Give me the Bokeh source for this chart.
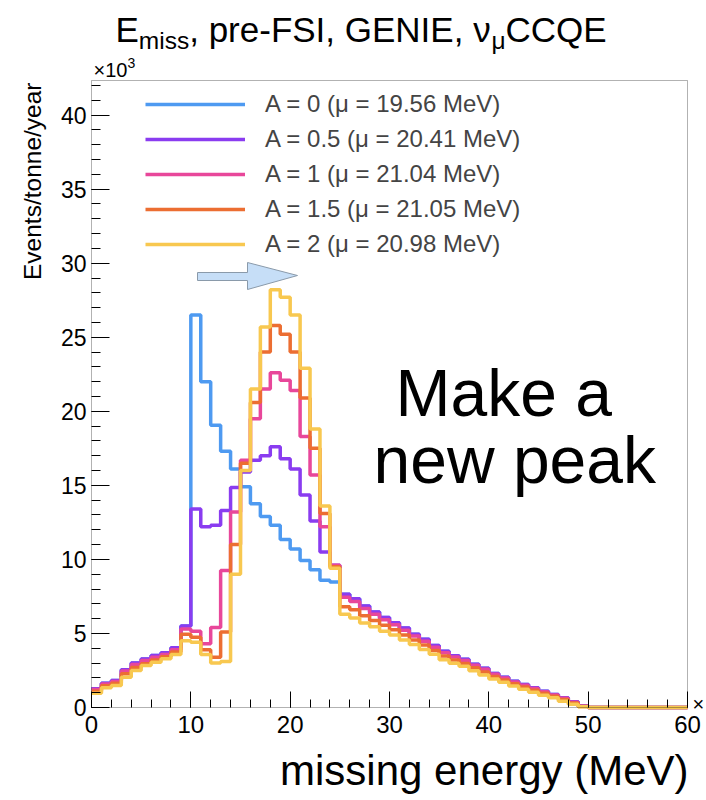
import numpy as np
from bokeh.plotting import figure
from bokeh.models import (Range1d, FixedTicker, Label, Legend, LegendItem, ColumnDataSource,
                          BoxAnnotation)
from bokeh.embed import file_html
from bokeh.resources import INLINE

# ---------------- data (events/tonne/year, in units of 10^3) ----------------
bin_edges = list(range(0, 61))
labels = ["A = 0 (\u03bc = 19.56 MeV)", "A = 0.5 (\u03bc = 20.41 MeV)", "A = 1 (\u03bc = 21.04 MeV)",
          "A = 1.5 (\u03bc = 21.05 MeV)", "A = 2 (\u03bc = 20.98 MeV)"]
colors = ["#4e9af1", "#8a3cf0", "#e8479a", "#ec6e32", "#f8c850"]

zeros10 = [0.0] * 10
a0 = [1.26, 1.64, 1.82, 2.55, 3.0, 3.27, 3.51, 3.7, 4.03, 5.5,
      26.5, 22.0, 19.05, 17.3, 16.1, 14.9, 13.75, 12.9, 12.3, 11.35, 10.7, 9.93, 9.3, 8.6, 8.47,
      7.65, 7.34, 6.85, 6.45, 6.08, 5.72, 5.36, 4.95, 4.6, 4.18, 3.8, 3.5, 3.25, 2.92, 2.65,
      2.3, 2.05, 1.78, 1.55, 1.33, 1.1, 0.88, 0.65, 0.38, 0.1] + zeros10
a05 = [1.26, 1.64, 1.82, 2.55, 3.0, 3.27, 3.51, 3.7, 4.03, 5.5,
       13.4, 12.2, 12.3, 13.3, 14.85, 15.9, 16.7, 17.0, 17.6, 16.8, 16.1, 14.35, 12.6, 10.5, 9.6,
       7.65, 7.34, 6.85, 6.45, 6.08, 5.72, 5.36, 4.95, 4.6, 4.18, 3.8, 3.5, 3.25, 2.92, 2.65,
       2.3, 2.05, 1.78, 1.55, 1.33, 1.1, 0.88, 0.65, 0.38, 0.1] + zeros10
a1 = [1.22, 1.59, 1.76, 2.47, 2.9, 3.17, 3.4, 3.58, 3.9, 5.3,
      5.15, 4.3, 5.4, 9.25, 13.2, 16.7, 19.5, 21.5, 22.6, 22.1, 21.4, 18.3, 15.7, 12.2, 9.6,
      7.45, 7.15, 6.68, 6.3, 5.93, 5.58, 5.22, 4.82, 4.48, 4.07, 3.7, 3.41, 3.17, 2.85, 2.58,
      2.24, 2.0, 1.73, 1.51, 1.29, 1.07, 0.85, 0.62, 0.36, 0.09] + zeros10
a15 = [1.1, 1.47, 1.63, 2.28, 2.7, 2.95, 3.2, 3.42, 3.75, 4.95,
       4.75, 3.9, 3.4, 5.1, 11.0, 16.5, 20.6, 24.0, 25.8, 25.2, 24.0, 20.9, 17.5, 13.1, 9.5,
       6.8, 6.6, 6.2, 5.88, 5.55, 5.25, 4.9, 4.55, 4.22, 3.85, 3.48, 3.2, 2.97, 2.68, 2.4,
       2.1, 1.86, 1.6, 1.38, 1.17, 0.96, 0.76, 0.54, 0.3, 0.07] + zeros10
a2 = [0.97, 1.33, 1.49, 2.05, 2.5, 2.84, 3.06, 3.29, 3.58, 4.5,
      4.4, 3.58, 3.0, 3.1, 9.0, 16.0, 21.5, 25.7, 28.2, 27.7, 26.5, 22.9, 18.8, 13.6, 9.4,
      6.3, 6.05, 5.7, 5.45, 5.15, 4.9, 4.55, 4.25, 3.92, 3.6, 3.22, 2.98, 2.78, 2.48, 2.2,
      1.92, 1.7, 1.45, 1.23, 1.03, 0.83, 0.65, 0.43, 0.22, 0.05] + zeros10
series = [a0, a05, a1, a15, a2]

x_major_ticks = [0, 10, 20, 30, 40, 50, 60]
x_minor_ticks = list(range(0, 61, 2))
y_major_ticks = [0, 5, 10, 15, 20, 25, 30, 35, 40]
y_minor_ticks = list(range(0, 43))

# ---------------- layout constants (pixels) ----------------
W, H = 706, 800
FL, FR, FT, FB = 91, 687, 80, 707          # ROOT frame edges in the picture
XMAX = 60.0
PX_PER_X = (FR - FL) / XMAX
PX_PER_Y = 14.81
YMAX = (FB - FT) / PX_PER_Y


def dx(px):
    return (px - FL) / PX_PER_X


def dy(py):
    return (FB - py) / PX_PER_Y


FONT = "Liberation Sans"

# the Bokeh frame covers the whole canvas; axes are pinned at x=0 / y=0
p = figure(width=W, height=H, output_backend="svg", toolbar_location=None,
           x_range=Range1d(dx(0), dx(W)), y_range=Range1d(dy(H), dy(0)),
           min_border_left=0, min_border_right=0, min_border_top=0, min_border_bottom=0)
p.title.visible = False
p.background_fill_color = "white"
p.border_fill_color = "white"
p.grid.visible = False
p.outline_line_color = None

p.xaxis.fixed_location = 0
p.yaxis.fixed_location = 0
p.xaxis.ticker = FixedTicker(ticks=x_major_ticks, minor_ticks=x_minor_ticks)
p.yaxis.ticker = FixedTicker(ticks=y_major_ticks, minor_ticks=y_minor_ticks)
for ax, mj, mn, so, fs in ((p.xaxis, 16, 8, 8, 24), (p.yaxis, 18, 9, 5, 23)):
    ax.major_tick_in = mj
    ax.major_tick_out = 0
    ax.minor_tick_in = mn
    ax.minor_tick_out = 0
    ax.major_tick_line_color = "black"
    ax.minor_tick_line_color = "black"
    ax.axis_line_color = None
    ax.major_label_text_font = FONT
    ax.major_label_text_font_size = f"{fs}px"
    ax.major_label_text_color = "black"
    ax.major_label_standoff = so

# ROOT frame box
p.add_layout(BoxAnnotation(left=0, right=XMAX, bottom=0, top=YMAX, fill_alpha=0,
                           line_color="black", line_width=1, level="overlay"))

# ---------------- histograms ----------------
items = []
for vals, col, lab in zip(series, colors, labels):
    src = ColumnDataSource(dict(x=bin_edges, y=vals + [vals[-1]]))
    r = p.step("x", "y", source=src, mode="after", line_color=col, line_width=3.5)
    dot = p.scatter(x=[], y=[], marker="square", size=5, color="black")
    items.append(LegendItem(label=lab, renderers=[r, dot]))

leg = Legend(items=items, location=(145, 542), orientation="vertical",
             glyph_width=100, glyph_height=20, label_height=20, spacing=7,
             label_standoff=20, label_text_font=FONT, label_text_font_size="24px",
             padding=0, margin=0, border_line_alpha=0, background_fill_alpha=0)
p.add_layout(leg, "center")

# ---------------- arrow (decoration) ----------------
ax_px = [197, 247, 247, 297, 247, 247, 197]
ay_px = [272, 272, 262, 275, 289, 280, 280]
p.patch([dx(v) for v in ax_px], [dy(v) for v in ay_px], fill_color="#c6def7",
        line_color="#8a9aaa", line_width=1)

# ---------------- text ----------------
AW = {" ": .278, ",": .278, "-": .333, "p": .556, "r": .333, "e": .556, "F": .611, "S": .667,
      "I": .278, "G": .778, "E": .667, "N": .722, "C": .722, "Q": .778, "m": .833, "i": .222,
      "s": .5, "\u03bd": .52, "\u03bc": .576, "\u00d7": .584, "1": .556, "0": .556}


def tw(s, size):
    return sum(AW.get(c, .556) for c in s) * size


def lab(text, px, base_py, size, align="left", angle=0.0, mid_x=None):
    # place by alphabetic baseline (converted to the text box middle)
    if angle == 0.0:
        x, y = dx(px), dy(base_py - 0.3465 * size)
    else:
        x, y = dx(mid_x), dy(base_py)
    p.add_layout(Label(x=x, y=y, text=text, text_font=FONT,
                       text_font_size=f"{size}px", text_color="black",
                       text_align=align, text_baseline="middle", angle=angle))


# title: E_miss, pre-FSI, GENIE, nu_mu CCQE
TF, SF = 35, 24.5
base, sub = 41, 48
cx = 115
for txt, size, py in (("E", TF, base), ("miss", SF, sub), (", pre-FSI, GENIE, ", TF, base),
                      ("\u03bd", TF, base), ("\u03bc", SF, sub), ("CCQE", TF, base)):
    lab(txt, cx, py, size)
    cx += tw(txt, size)

# exponent of the y axis
lab("\u00d710", 93, 76, 20)
lab("3", 93 + tw("\u00d710", 20), 67, 14)
# x axis exponent marker
lab("\u00d7", 692, 710, 20)

# y axis title (rotated, top-aligned like ROOT)
lab("Events/tonne/year", None, 82, 24.5, align="right", angle=np.pi / 2, mid_x=32)
# x axis title
lab("missing energy (MeV)", 688, 785, 42, align="right")

# annotation text
lab("Make a", 395, 415, 66)
lab("new peak", 373, 482, 66)

open("out.html", "w").write(file_html(p, INLINE))
